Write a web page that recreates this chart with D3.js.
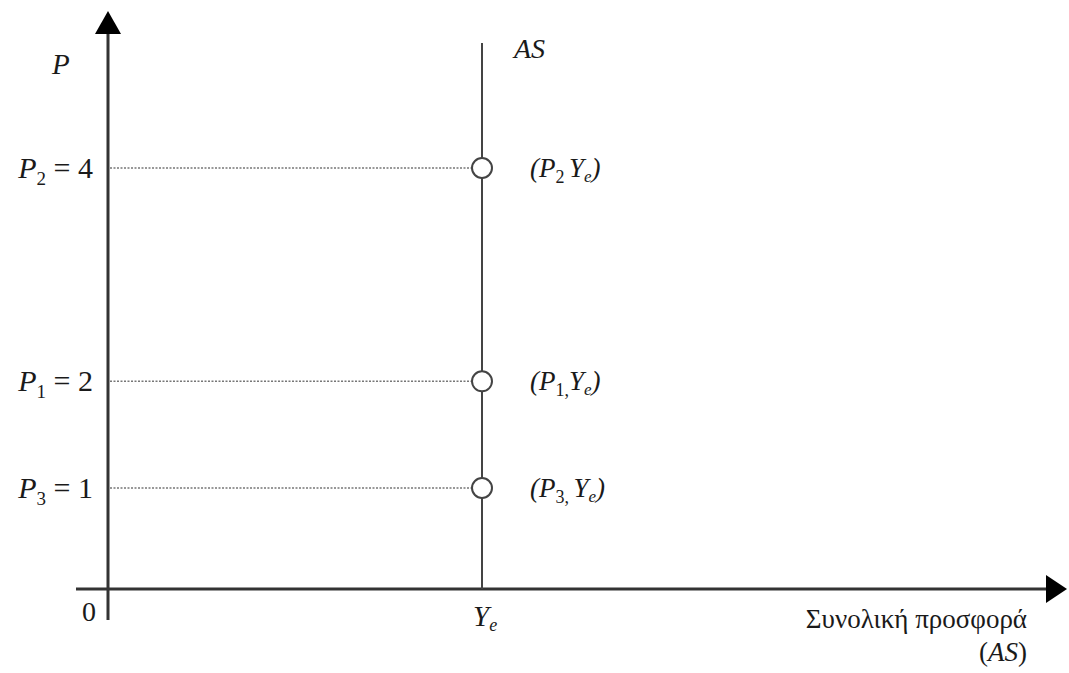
<!DOCTYPE html>
<html>
<head>
<meta charset="utf-8">
<script src="https://cdn.jsdelivr.net/npm/d3@7"></script>
</head>
<body style="margin:0">
<script>
var priceLevels = [4, 2, 1];          // P2, P1, P3
var priceNames = ["2", "1", "3"];     // subscripts
var pointSep = [" ", ",", ", "];      // separators as printed
var outputYe = 5;                      // full-employment output (arbitrary units)

var w = 1069;
var h = 673;
var fontNames = ["Liberation Serif"];

var x = d3.scaleLinear().domain([0, 10]).range([108, 856]);
var y = d3.scaleLinear().domain([1, 4]).range([488, 168]);
var axisY = 589; // x axis position

var svg = d3.select("body")
            .append("svg")
            .attr("width", w)
            .attr("height", h);

//helper: text in serif
function addText(sel, size, italic) {
  return sel.append("text")
            .attr("font-family", function() { return fontNames[0]; })
            .attr("font-size", size)
            .attr("font-style", italic ? "italic" : "normal")
            .attr("fill", "#1a1a1a");
}

//axes
svg.append("line")
   .attr("x1", x(0)).attr("x2", x(0))
   .attr("y1", 620).attr("y2", 30)
   .attr("stroke", "#333").attr("stroke-width", 3);
svg.append("path")
   .attr("d", "M" + (x(0) - 13) + ",34 L" + x(0) + ",11 L" + (x(0) + 13) + ",34 Z")
   .attr("fill", "#000");

svg.append("line")
   .attr("x1", 76).attr("x2", 1050)
   .attr("y1", axisY).attr("y2", axisY)
   .attr("stroke", "#333").attr("stroke-width", 3);
svg.append("path")
   .attr("d", "M1046," + (axisY - 14) + " L1067," + axisY + " L1046," + (axisY + 14) + " Z")
   .attr("fill", "#000");

//AS vertical line
svg.append("line")
   .attr("x1", x(outputYe)).attr("x2", x(outputYe))
   .attr("y1", 43).attr("y2", axisY)
   .attr("stroke", "#444").attr("stroke-width", 2);

addText(svg, 28, true)
   .attr("x", 514).attr("y", 58)
   .text("AS");

//guides, points and labels
var pts = svg.selectAll("g.pt")
             .data(priceLevels)
             .enter()
             .append("g")
             .attr("class", "pt");

pts.append("line")
   .attr("x1", x(0) + 2)
   .attr("x2", x(outputYe) - 10)
   .attr("y1", function(d) { return y(d); })
   .attr("y2", function(d) { return y(d); })
   .attr("stroke", "#777")
   .attr("stroke-width", 1.5)
   .attr("stroke-dasharray", "2,1.5");

pts.append("circle")
   .attr("cx", x(outputYe))
   .attr("cy", function(d) { return y(d); })
   .attr("r", 10)
   .attr("fill", "#fff")
   .attr("stroke", "#444")
   .attr("stroke-width", 2);

//tick labels on the left
var lab = addText(pts, 30, false)
   .attr("x", 93)
   .attr("y", function(d) { return y(d) + 10; })
   .attr("text-anchor", "end");
lab.append("tspan").attr("font-style", "italic").text("P");
lab.append("tspan").attr("font-size", 19).attr("dy", 7)
   .text(function(d, i) { return priceNames[i]; });
lab.append("tspan").attr("dy", -7)
   .text(function(d) { return " = " + d; });

//point labels
var pl = addText(pts, 27, true)
   .attr("x", 530)
   .attr("y", function(d) { return y(d) + 9; });
pl.append("tspan").text("(P");
pl.append("tspan").attr("font-size", 18).attr("font-style", "normal").attr("dy", 6)
   .text(function(d, i) { return priceNames[i] + pointSep[i]; });
pl.append("tspan").attr("dy", -6).text("Y");
pl.append("tspan").attr("font-size", 17).attr("dy", 5).text("e");
pl.append("tspan").attr("dy", -5).text(")");

//axis labels
addText(svg, 29, true)
   .attr("x", 52).attr("y", 74)
   .text("P");

addText(svg, 28, false)
   .attr("x", 82).attr("y", 621)
   .text("0");

var ye = addText(svg, 29, true)
   .attr("x", 473).attr("y", 626);
ye.append("tspan").text("Y");
ye.append("tspan").attr("font-size", 18).attr("dy", 5).text("e");

addText(svg, 27, false)
   .attr("x", 1027).attr("y", 628)
   .attr("text-anchor", "end")
   .text("Συνολική προσφορά");

var asl = addText(svg, 27, false)
   .attr("x", 1027).attr("y", 661)
   .attr("text-anchor", "end");
asl.append("tspan").text("(");
asl.append("tspan").attr("font-style", "italic").text("AS");
asl.append("tspan").text(")");
</script>
</body>
</html>
